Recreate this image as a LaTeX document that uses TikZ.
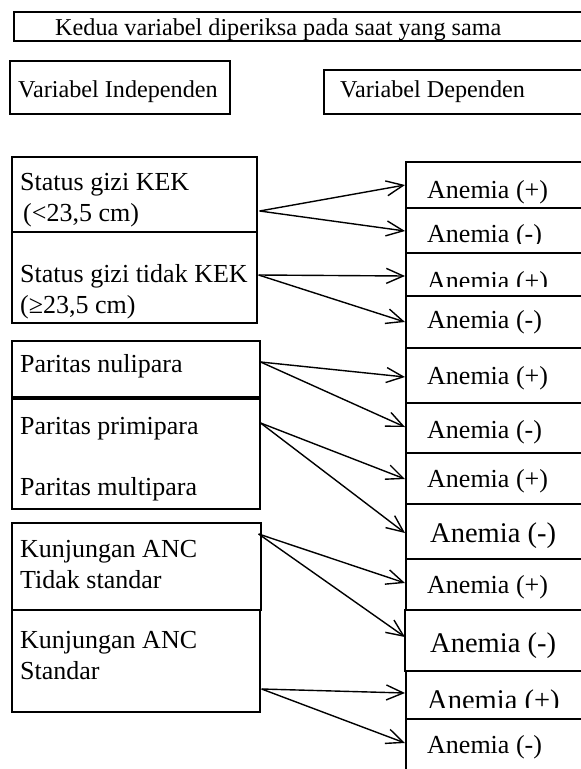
\documentclass[tikz,border=0pt]{standalone}
\usepackage{fontspec}
\setmainfont{Liberation Serif}
\usetikzlibrary{arrows.meta,calc}
\begin{document}
\begin{tikzpicture}[x=1pt,y=-1pt,
  box/.style={draw, line width=1.6pt, rectangle, inner sep=0pt, anchor=north west},
  hd/.style={font=\fontsize{24.2}{28}\selectfont, anchor=base west, inner sep=0pt},
  tx/.style={font=\fontsize{26}{30}\selectfont, anchor=base west, inner sep=0pt},
  big/.style={font=\fontsize{28.5}{32}\selectfont, anchor=base west, inner sep=0pt},
  arr/.style={line width=1.4pt, -{Straight Barb[length=17pt,width=15pt,line width=1.4pt]}}]
\useasboundingbox (0,0) rectangle (581,769);
\clip (0,0) rectangle (581,769);
% headers
\node[box, minimum width=700pt, minimum height=29pt] (T) at (13,11) {};
\node[hd] (t0) at (55,35) {Kedua variabel diperiksa pada saat yang sama};
\node[box, minimum width=220pt, minimum height=53pt] (VI) at (9,60) {};
\node[hd] (t1) at (18,97) {Variabel Independen};
\node[box, minimum width=380pt, minimum height=44pt] (VD) at (323,69) {};
\node[hd] (t2) at (340,97) {Variabel Dependen};
% left boxes
\node[box, minimum width=245pt, minimum height=75pt] (L1) at (11,156) {};
\node[box, minimum width=245pt, minimum height=91pt] (L2) at (11,231) {};
\node[box, minimum width=248pt, minimum height=56pt] (L3) at (11,340) {};
\node[box, minimum width=248pt, minimum height=110pt] (L4) at (11,398) {};
\node[box, minimum width=249pt, minimum height=87pt] (L5) at (11,522) {};
\node[box, minimum width=248pt, minimum height=102pt] (L6) at (11,609) {};
\node[tx] (l1a) at (20,190) {Status gizi KEK};
\node[tx] (l1b) at (23,221) {(<23,5 cm)};
\node[tx] (l2a) at (20,282) {Status gizi tidak KEK};
\node[tx] (l2b) at (20,313) {(≥23,5 cm)};
\node[tx] (l3a) at (20,372) {Paritas nulipara};
\node[tx] (l4a) at (20,434) {Paritas primipara};
\node[tx] (l4b) at (20,495) {Paritas multipara};
\node[tx] (l5a) at (20,557) {Kunjungan ANC};
\node[tx] (l5b) at (20,588) {Tidak standar};
\node[tx] (l6a) at (20,648) {Kunjungan ANC};
\node[tx] (l6b) at (20,679) {Standar};
% right boxes
\node[box, minimum width=300pt, minimum height=46pt] (R1) at (405,161) {};
\node[box, minimum width=300pt, minimum height=45pt] (R2) at (405,207) {};
\node[box, minimum width=300pt, minimum height=43pt] (R3) at (405,252) {};
\node[box, minimum width=300pt, minimum height=52pt] (R4) at (405,295) {};
\node[box, minimum width=300pt, minimum height=55pt] (R5) at (405,347) {};
\node[box, minimum width=300pt, minimum height=50pt] (R6) at (405,402) {};
\node[box, minimum width=300pt, minimum height=51pt] (R7) at (405,452) {};
\node[box, minimum width=300pt, minimum height=55pt] (R8) at (405,503) {};
\node[box, minimum width=300pt, minimum height=51pt] (R9) at (405,558) {};
\node[box, minimum width=300pt, minimum height=61pt] (R10) at (404,609) {};
\node[box, minimum width=300pt, minimum height=48pt] (R11) at (405,670) {};
\node[box, minimum width=300pt, minimum height=90pt] (R12) at (405,718) {};
\node[tx] (r1) at (427,198) {Anemia (+)};
\begin{scope}
\clip (406,208) rectangle (581,243);
\node[tx] (r2) at (427,242) {Anemia (-)};
\end{scope}
\begin{scope}
\clip (406,253) rectangle (581,286);
\node[tx] (r3) at (427,289) {Anemia (+)};
\end{scope}
\node[tx] (r4) at (427,328) {Anemia (-)};
\node[tx] (r5) at (427,384) {Anemia (+)};
\node[tx] (r6) at (427,438) {Anemia (-)};
\node[tx] (r7) at (427,487) {Anemia (+)};
\node[big] (r8) at (430,542) {Anemia (-)};
\node[tx] (r9) at (427,593) {Anemia (+)};
\node[big] (r10) at (430,652) {Anemia (-)};
\begin{scope}
\clip (406,671) rectangle (581,707);
\node[big] (r11) at (427,709) {Anemia (+)};
\end{scope}
\node[tx] (r12) at (427,753) {Anemia (-)};
% arrows
\draw[arr] ($(L1.north east)+(2,55)$) -- ($(R1.north west)+(0,24)$);
\draw[arr] ($(L1.north east)+(2,55)$) -- ($(R2.north west)+(0,24)$);
\draw[arr] ($(L2.north east)+(1,44)$) -- ($(R3.north west)+(0,24)$);
\draw[arr] ($(L2.north east)+(1,44)$) -- ($(R4.north west)+(0,27)$);
\draw[arr] ($(L3.north east)+(0,22)$) -- ($(R5.north west)+(0,30)$);
\draw[arr] ($(L3.north east)+(0,22)$) -- ($(R6.north west)+(0,25)$);
\draw[arr] ($(L4.north east)+(0,25)$) -- ($(R7.north west)+(0,27)$);
\draw[arr] ($(L4.north east)+(0,25)$) -- ($(R8.north west)+(0,30)$);
\draw[arr] ($(L5.north east)+(-3,12)$) -- ($(R9.north west)+(0,25)$);
\draw[arr] ($(L5.north east)+(-3,12)$) -- ($(R10.north west)+(1,28)$);
\draw[arr] ($(L6.north east)+(1,80)$) -- ($(R11.north west)+(0,23)$);
\draw[arr] ($(L6.north east)+(1,80)$) -- ($(R12.north west)+(0,25)$);
\end{tikzpicture}
\end{document}
